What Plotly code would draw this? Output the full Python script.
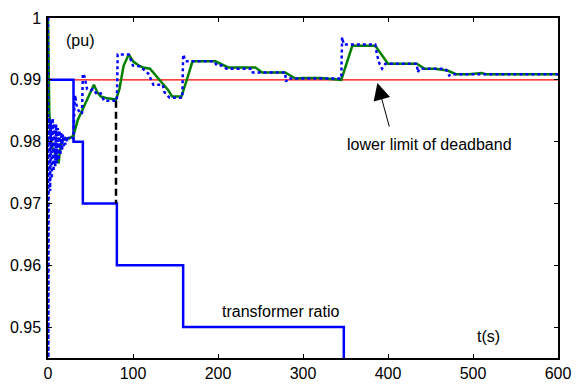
import plotly.graph_objects as go

# Transformer ratio (step)
ratio_t = [0, 30, 41, 81, 159, 348, 600]
ratio_v = [0.99, 0.98, 0.97, 0.96, 0.95, 0.94, 0.94]

# Voltage, model 1 (green solid)
green_t = [0, 0.5, 1.5, 3, 5, 7, 9, 11, 12.5, 14, 16, 20, 25, 30, 31, 35, 40, 45, 50, 54, 58, 62, 70, 80,
           84, 89, 95, 100, 108, 112, 120, 131, 141, 146, 157, 164, 170, 180, 197, 212, 231, 244, 252,
           265, 279, 291, 300, 320, 345, 358, 385, 400, 434, 443, 455, 470, 480, 495, 505, 510, 515, 540, 600]
green_v = [1.0, 0.990, 0.985, 0.981, 0.979, 0.9785, 0.978, 0.977, 0.9765, 0.9785, 0.980, 0.9805, 0.9805,
           0.981, 0.9815, 0.9835, 0.985, 0.9865, 0.988, 0.9892, 0.988, 0.9873, 0.987, 0.9868,
           0.9885, 0.9923, 0.9941, 0.993, 0.9922, 0.992, 0.9918, 0.990, 0.9884, 0.9873, 0.9873, 0.9903,
           0.993, 0.993, 0.993, 0.992, 0.992, 0.992, 0.9912, 0.9912, 0.9912, 0.9902, 0.9903, 0.9903,
           0.990, 0.9955, 0.9955, 0.9926, 0.9926, 0.9918, 0.9918, 0.9915, 0.9909, 0.9909, 0.991,
           0.9911, 0.9909, 0.9909, 0.9909]

# Voltage, model 2 (blue dotted)
blue_t = [0, 0.3, 0.8, 1.5, 2.5, 3.5, 4.5, 5.5, 6.5, 7.5, 8.5, 9.5, 10.5, 11.5, 12.5, 13.5, 14.5, 15.5,
          16.5, 17.5, 18.5, 19.5, 20.5, 21.5, 22.5, 24, 26, 28, 30, 31, 32, 34, 37, 40, 41, 43, 46, 50,
          53, 58, 62, 66, 75, 81, 82, 95, 100, 108, 118, 122, 124, 135, 137, 143, 158, 159, 162, 195,
          199, 205, 210, 240, 241, 279, 280, 282, 345, 346, 348, 385, 387, 390, 393, 397, 434, 435,
          437, 467, 469, 472, 474, 600]
blue_v = [1.0, 0.93, 0.975, 0.984, 0.972, 0.9835, 0.974, 0.9838, 0.9752, 0.983, 0.976, 0.9828, 0.9765,
          0.9822, 0.977, 0.9818, 0.9778, 0.9815, 0.9785, 0.9812, 0.979, 0.981, 0.9795, 0.9808, 0.980,
          0.9807, 0.9804, 0.9806, 0.9805, 0.9855, 0.9875, 0.9855, 0.9848, 0.9845, 0.991, 0.9905, 0.9885,
          0.9883, 0.9885, 0.9876, 0.9878, 0.9866, 0.9866, 0.9866, 0.9941, 0.9941, 0.9923, 0.9922, 0.991,
          0.9897, 0.9892, 0.9892, 0.988, 0.9871, 0.9871, 0.9941, 0.993, 0.993, 0.9923, 0.9923, 0.9918,
          0.9918, 0.9912, 0.9912, 0.9897, 0.9902, 0.9902, 0.9969, 0.9957, 0.9957, 0.9941, 0.9926,
          0.9918, 0.9926, 0.9926, 0.9912, 0.9918, 0.9918, 0.9915, 0.9907, 0.9909, 0.9909]

deadband_t = [0, 600]
deadband_v = [0.99, 0.99]

tap_marker_t = [80, 80]
tap_marker_v = [0.9866, 0.97]

x_ticks = [0, 100, 200, 300, 400, 500, 600]
y_ticks = [0.95, 0.96, 0.97, 0.98, 0.99, 1.0]
y_tick_text = ["0.95", "0.96", "0.97", "0.98", "0.99", "1"]

FONT = "Arial, Liberation Sans, sans-serif"

fig = go.Figure()
fig.add_trace(go.Scatter(x=deadband_t, y=deadband_v, mode="lines",
                         line=dict(color="#FF0000", width=1.2)))
fig.add_trace(go.Scatter(x=ratio_t, y=ratio_v, mode="lines", line_shape="hv",
                         line=dict(color="#0000FF", width=2.5)))
fig.add_trace(go.Scatter(x=tap_marker_t, y=tap_marker_v, mode="lines",
                         line=dict(color="#000000", width=2.5, dash="7px,4px")))
fig.add_trace(go.Scatter(x=green_t, y=green_v, mode="lines",
                         line=dict(color="#008000", width=2.5)))
fig.add_trace(go.Scatter(x=blue_t, y=blue_v, mode="lines",
                         line=dict(color="#0000FF", width=2.5, dash="dot")))

axis_common = dict(showgrid=False, zeroline=False, showline=True, linecolor="black",
                   linewidth=1.5, mirror="ticks", ticks="inside", ticklen=4,
                   tickcolor="black", tickfont=dict(family=FONT, size=16, color="black"))

fig.update_xaxes(range=[0, 600], tickvals=x_ticks, **axis_common)
fig.update_yaxes(range=[0.945, 1.0], tickvals=y_ticks, ticktext=y_tick_text, ticklabelstandoff=2,
                 **axis_common)

fig.add_annotation(x=38, y=0.99644, xref="x", yref="y", text="(pu)", showarrow=False,
                   font=dict(family=FONT, size=16, color="black"))
fig.add_annotation(x=449, y=0.97957, xref="x", yref="y", text="lower limit of deadband",
                   showarrow=False, font=dict(family=FONT, size=16, color="black"))
fig.add_annotation(x=273.5, y=0.95248, xref="x", yref="y", text="transformer ratio",
                   showarrow=False, font=dict(family=FONT, size=16, color="black"))
fig.add_annotation(x=518, y=0.94855, xref="x", yref="y", text="t(s)",
                   showarrow=False, font=dict(family=FONT, size=16, color="black"))
fig.add_annotation(x=387.5, y=0.9895, xref="x", yref="y", ax=402, ay=0.9822,
                   axref="x", ayref="y", text="", showarrow=True,
                   arrowhead=2, arrowsize=3.4, arrowwidth=1, arrowcolor="black")

fig.update_layout(width=581, height=392, margin=dict(l=46, r=15, t=10, b=27),
                  plot_bgcolor="white", paper_bgcolor="white", showlegend=False,
                  font=dict(family=FONT, size=16, color="black"))

fig.write_html("out.html")
